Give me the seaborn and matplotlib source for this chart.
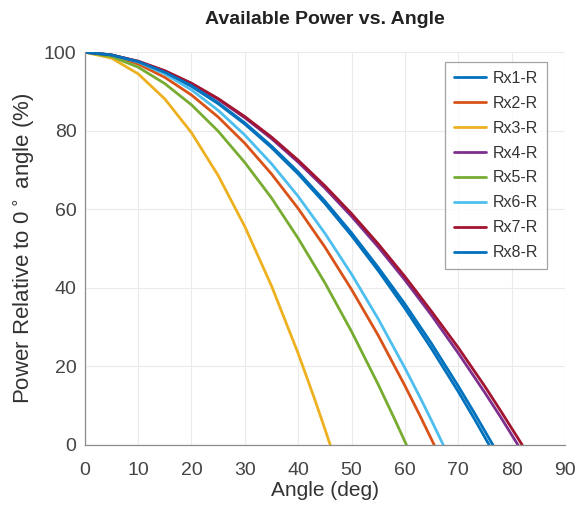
import numpy as np
import pandas as pd
import matplotlib
matplotlib.use("Agg")
import matplotlib.pyplot as plt
import seaborn as sns

# values (angle in deg, power in % of 0 deg)
rx1_ang = [0, 5, 10, 15, 20, 25, 30, 35, 40, 45, 50, 55, 60, 65, 70, 73, 75.8]
rx1_pow = [100, 99.3, 97.5, 94.8, 91.3, 86.9, 81.7, 75.7, 69.0, 61.5, 53.3, 44.4, 34.8, 24.5, 13.6, 6.7, 0]

rx2_ang = [0, 5, 10, 15, 20, 25, 30, 35, 40, 45, 50, 55, 60, 63, 65.5]
rx2_pow = [100, 99.2, 97.0, 93.6, 89.1, 83.5, 76.8, 69.0, 60.2, 50.4, 39.6, 27.9, 15.1, 7.0, 0]

rx3_ang = [0, 5, 10, 15, 20, 25, 30, 35, 40, 43, 45, 46]
rx3_pow = [100, 98.5, 94.5, 88.1, 79.5, 68.6, 55.6, 40.5, 23.3, 12.0, 4.1, 0]

rx4_ang = [0, 5, 10, 15, 20, 25, 30, 35, 40, 45, 50, 55, 60, 65, 70, 75, 78, 81.2]
rx4_pow = [100, 99.3, 97.7, 95.2, 92.0, 88.0, 83.3, 78.0, 72.0, 65.4, 58.2, 50.4, 42.0, 33.0, 23.4, 13.3, 7.0, 0]

rx5_ang = [0, 5, 10, 15, 20, 25, 30, 35, 40, 45, 50, 55, 58, 60.3]
rx5_pow = [100, 98.9, 96.2, 92.0, 86.6, 79.9, 71.9, 62.9, 52.6, 41.3, 28.9, 15.4, 6.8, 0]

rx6_ang = [0, 5, 10, 15, 20, 25, 30, 35, 40, 45, 50, 55, 60, 63, 65, 67.2]
rx6_pow = [100, 99.3, 97.5, 94.5, 90.4, 85.2, 78.9, 71.6, 63.3, 53.9, 43.5, 32.1, 19.6, 11.7, 6.2, 0]

rx7_ang = [0, 5, 10, 15, 20, 25, 30, 35, 40, 45, 50, 55, 60, 65, 70, 75, 78, 82]
rx7_pow = [100, 99.3, 97.7, 95.3, 92.1, 88.2, 83.6, 78.4, 72.5, 66.0, 58.9, 51.2, 42.9, 34.0, 24.8, 14.9, 8.6, 0]

rx8_ang = [0, 5, 10, 15, 20, 25, 30, 35, 40, 45, 50, 55, 60, 65, 70, 73, 76.5]
rx8_pow = [100, 99.3, 97.6, 94.9, 91.5, 87.1, 82.0, 76.1, 69.5, 62.1, 54.0, 45.2, 35.9, 25.8, 15.0, 8.2, 0]

labels = ["Rx1-R", "Rx2-R", "Rx3-R", "Rx4-R", "Rx5-R", "Rx6-R", "Rx7-R", "Rx8-R"]
angles = [rx1_ang, rx2_ang, rx3_ang, rx4_ang, rx5_ang, rx6_ang, rx7_ang, rx8_ang]
powers = [rx1_pow, rx2_pow, rx3_pow, rx4_pow, rx5_pow, rx6_pow, rx7_pow, rx8_pow]

# matlab default colour order
colors = ["#0072BD", "#D95319", "#EDB120", "#7E2F8E",
          "#77AC30", "#4DBEEE", "#A2142F", "#0072BD"]

frames = []
for lab, a, p in zip(labels, angles, powers):
    frames.append(pd.DataFrame({"angle": a, "power": p, "rx": lab}))
df = pd.concat(frames, ignore_index=True)

sns.set_theme(style="whitegrid")
plt.rcParams["font.family"] = ["Liberation Sans", "DejaVu Sans"]

fig = plt.figure(figsize=(5.77, 5.12), dpi=100)
ax = fig.add_axes([0.147, 0.131, 0.832, 0.767])

sns.lineplot(data=df, x="angle", y="power", hue="rx", palette=colors,
             linewidth=2, sort=False, estimator=None, ax=ax)

ax.set_xlim(0, 90)
ax.set_ylim(0, 100)
ax.set_xticks(np.arange(0, 91, 10))
ax.set_yticks(np.arange(0, 101, 20))
ax.grid(True, color="#ebebeb", linewidth=0.8)
ax.set_facecolor("white")
for s in ["top", "right"]:
    ax.spines[s].set_visible(False)
for s in ["left", "bottom"]:
    ax.spines[s].set_color("#8c8c8c")
    ax.spines[s].set_linewidth(0.9)
ax.tick_params(axis="both", direction="in", length=4, color="#8c8c8c",
               labelsize=14, labelcolor="#444444")
ax.tick_params(axis="x", pad=12)
ax.tick_params(axis="y", pad=6)

ax.set_xlabel("Angle (deg)", fontsize=15, color="#333333", labelpad=2)
ax.set_ylabel("Power Relative to 0$^\\circ$ angle (%)", fontsize=16,
              color="#333333", labelpad=5)
ax.set_title("Available Power vs. Angle", fontsize=14, fontweight="bold",
             color="#222222", pad=20)

handles, labs = ax.get_legend_handles_labels()
leg = ax.legend(handles, labs, loc="upper right", bbox_to_anchor=(0.963, 0.975),
                borderaxespad=0, fontsize=11.5, frameon=True, fancybox=False,
                handlelength=2.0, handletextpad=0.45, labelspacing=0.62,
                borderpad=0.55, title=None)
leg.get_frame().set_edgecolor("#8c8c8c")
leg.get_frame().set_linewidth(0.9)
for t in leg.get_texts():
    t.set_color("#333333")

fig.savefig("out.png", dpi=100)
